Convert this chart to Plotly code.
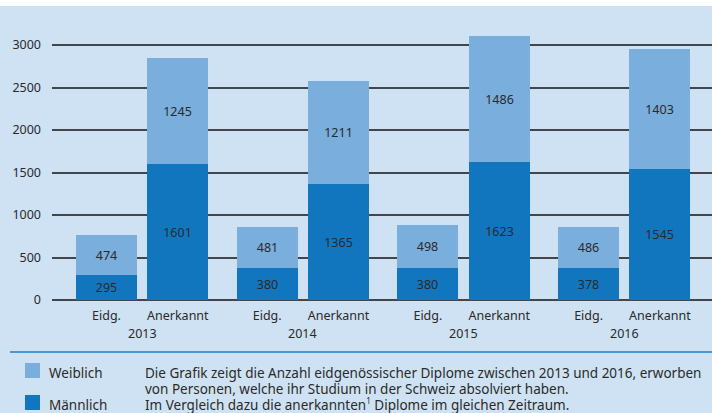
import plotly.graph_objects as go

# ---- data ----
years = ["2013", "2014", "2015", "2016"]
types = ["Eidg.", "Anerkannt"]
maennlich_eidg = [295, 380, 380, 378]
maennlich_anerk = [1601, 1365, 1623, 1545]
weiblich_eidg = [474, 481, 498, 486]
weiblich_anerk = [1245, 1211, 1486, 1403]
y_ticks = [0, 500, 1000, 1500, 2000, 2500, 3000]

legend_names = ["Weiblich", "Männlich"]
desc_lines = [
    "Die Grafik zeigt die Anzahl eidgenössischer Diplome zwischen 2013 und 2016, erworben",
    "von Personen, welche ihr Studium in der Schweiz absolviert haben.",
    "Im Vergleich dazu die anerkannten<sup><span style='font-size:8px'>1</span></sup> Diplome im gleichen Zeitraum.",
]

# ---- style ----
BG = "#cfe2f3"
C_W = "#7aaedd"
C_M = "#1276bf"
GRID = "#40464c"
TXT = "#2a2a2a"
FONT = "Noto Sans"
FS = 12.5
FS_DESC = 13.5

W, H = 712, 413
ML, MR, MT, MB = 52, 0, 20, 113
PW, PH = W - ML - MR, H - MT - MB

def px_x(x):
    return (x - ML) / PW

def px_y(y):
    return 1 - (y - MT) / PH

# bar positions (layout): group step and pair offset in axis units (= px)
first_c, step, pair = 54.5, 160.7, 71.3
x_pos, m_vals, w_vals, tick_txt = [], [], [], []
for i, yr in enumerate(years):
    for k, t in enumerate(types):
        x_pos.append(first_c + i * step + k * pair)
        tick_txt.append(t)
    m_vals += [maennlich_eidg[i], maennlich_anerk[i]]
    w_vals += [weiblich_eidg[i], weiblich_anerk[i]]

fig = go.Figure()
common = dict(x=x_pos, width=61, textposition="inside", insidetextanchor="middle",
              textangle=0, constraintext="none", texttemplate="%{y}",
              textfont=dict(color=TXT, size=FS, family=FONT), showlegend=False,
              hoverinfo="y")
fig.add_trace(go.Bar(y=m_vals, name="Männlich", marker=dict(color=C_M, line=dict(width=0)), **common))
fig.add_trace(go.Bar(y=w_vals, name="Weiblich", marker=dict(color=C_W, line=dict(width=0)), **common))

annotations = []
for i, yr in enumerate(years):
    annotations.append(dict(x=first_c + i * step + pair / 2, xref="x", y=px_y(333), yref="paper",
                            text=yr, showarrow=False, xanchor="center", yanchor="middle",
                            font=dict(size=FS, color=TXT, family=FONT)))

shapes = [
    dict(type="rect", xref="paper", yref="paper", x0=px_x(0), x1=px_x(W), y0=px_y(0), y1=px_y(6),
         fillcolor="white", line=dict(width=0), layer="below"),
    dict(type="line", xref="paper", yref="paper", x0=px_x(10), x1=px_x(W), y0=px_y(352), y1=px_y(352),
         line=dict(color="#4a97d3", width=2)),
]
for name, col, yc in [(legend_names[0], C_W, 370.5), (legend_names[1], C_M, 402.5)]:
    shapes.append(dict(type="rect", xref="paper", yref="paper", x0=px_x(25), x1=px_x(40),
                       y0=px_y(yc - 7.5), y1=px_y(yc + 7.5), fillcolor=col, line=dict(width=0)))
    annotations.append(dict(x=px_x(47), xref="paper", y=px_y(yc + 2.5), yref="paper", text=name,
                            showarrow=False, xanchor="left", yanchor="middle",
                            font=dict(size=FS_DESC, color=TXT, family=FONT)))
for line, yc in zip(desc_lines, [373, 388.5, 404]):
    annotations.append(dict(x=px_x(143), xref="paper", y=px_y(yc), yref="paper", text=line,
                            showarrow=False, xanchor="left", yanchor="middle",
                            font=dict(size=FS_DESC, color=TXT, family=FONT)))

fig.update_layout(
    width=W, height=H, margin=dict(l=ML, r=MR, t=MT, b=MB, pad=0),
    paper_bgcolor=BG, plot_bgcolor=BG, barmode="stack", bargap=0,
    font=dict(family=FONT, size=FS, color=TXT),
    xaxis=dict(range=[0, PW], tickvals=x_pos, ticktext=tick_txt, showgrid=False, zeroline=False,
               showline=False, ticks="", ticklabelstandoff=6, tickfont=dict(size=FS, color=TXT)),
    yaxis=dict(range=[0, 3000 * PH / 255], tickvals=y_ticks, showgrid=True, gridcolor=GRID,
               gridwidth=1.6, zeroline=True, zerolinecolor=GRID, zerolinewidth=1.6,
               showline=False, ticks="", ticklabelstandoff=10, tickfont=dict(size=FS, color=TXT)),
    shapes=shapes, annotations=annotations,
)
fig.write_html("out.html", config={"displayModeBar": False})

# remove the browser's default page margin so the figure sits at the window's corner
with open("out.html", encoding="utf-8") as f:
    html = f.read()
html = html.replace("<head>", "<head><style>html,body{margin:0;padding:0;overflow:hidden;}</style>", 1)
with open("out.html", "w", encoding="utf-8") as f:
    f.write(html)
